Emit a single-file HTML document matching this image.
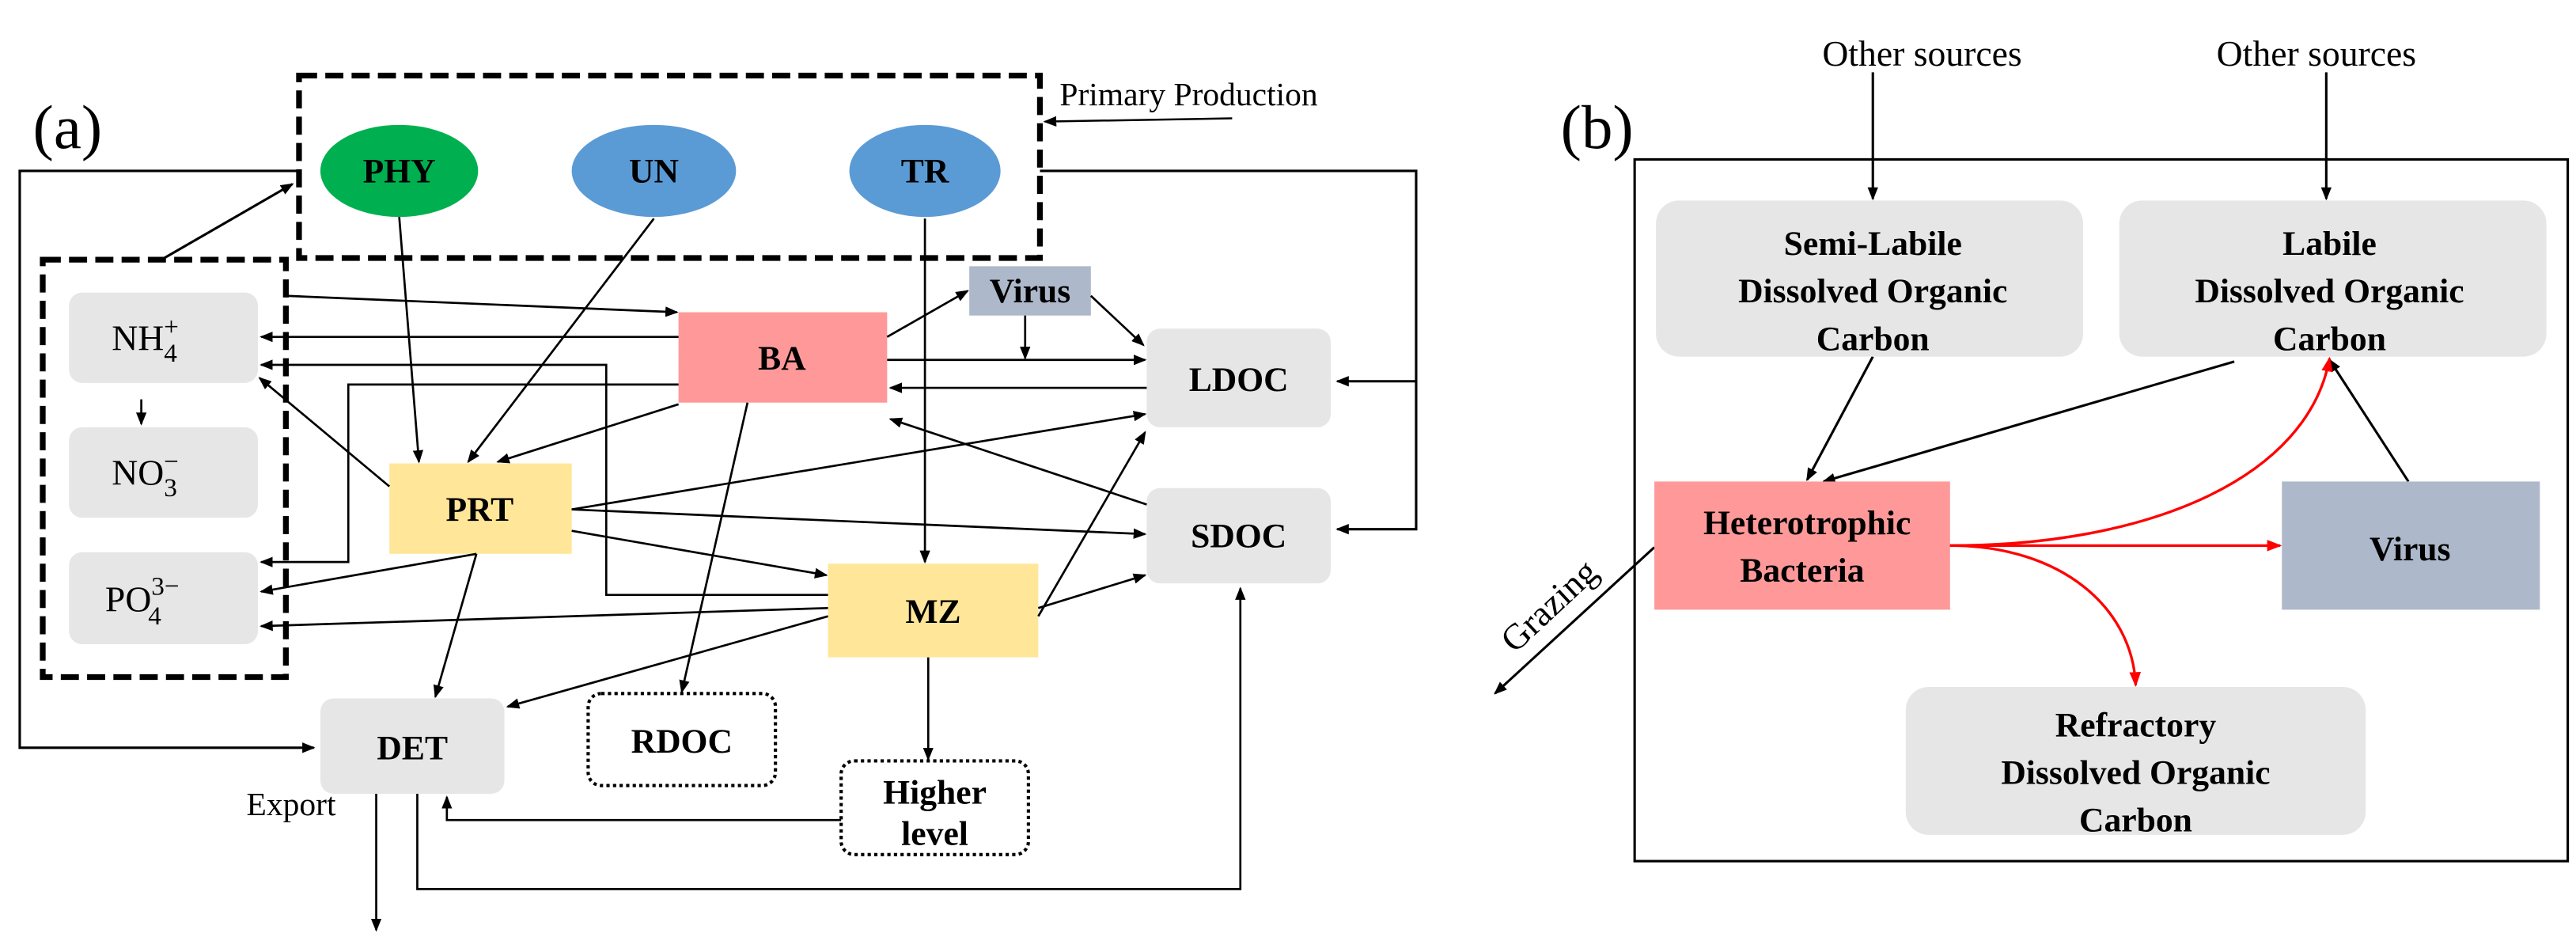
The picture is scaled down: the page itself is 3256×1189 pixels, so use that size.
<!DOCTYPE html>
<html><head><meta charset="utf-8"><style>
html,body{margin:0;padding:0;background:#fff;}
svg{display:block;font-family:"Liberation Serif","DejaVu Serif",serif;}
svg text{font-family:"Liberation Serif","DejaVu Serif",serif;}
.b{font-weight:bold;font-size:21px;}
.n{font-size:22px;}
</style></head><body>
<svg width="3256" height="1189" viewBox="0 0 1568 572.6" xmlns="http://www.w3.org/2000/svg" font-family="Liberation Serif, DejaVu Serif, serif">
<defs>
<marker id="a" markerWidth="8" markerHeight="8" refX="7" refY="4" orient="auto" markerUnits="userSpaceOnUse"><path d="M0,0.8 L8,4 L0,7.2 Z" fill="#000"/></marker>
<marker id="r" markerWidth="9" markerHeight="9" refX="8" refY="4.5" orient="auto" markerUnits="userSpaceOnUse"><path d="M0,1 L9,4.5 L0,8 Z" fill="#f00"/></marker>
</defs>
<!-- (a) -->
<text x="20" y="90" font-size="38">(a)</text>
<rect x="182" y="46" width="451" height="111" fill="none" stroke="#000" stroke-width="3.5" stroke-dasharray="11,5"/>
<text x="645" y="64" font-size="20">Primary Production</text>
<line x1="750" y1="72" x2="636" y2="74" stroke="#000" stroke-width="1.2" marker-end="url(#a)"/>
<ellipse cx="243" cy="104" rx="48" ry="28" fill="#00b050"/>
<text x="243" y="111" text-anchor="middle" class="b">PHY</text>
<ellipse cx="398" cy="104" rx="50" ry="28" fill="#5b9bd5"/>
<text x="398" y="111" text-anchor="middle" class="b">UN</text>
<ellipse cx="563" cy="104" rx="46" ry="28" fill="#5b9bd5"/>
<text x="563" y="111" text-anchor="middle" class="b">TR</text>
<polyline points="182,104 12,104 12,455 191,455" fill="none" stroke="#000" stroke-width="1.5" marker-end="url(#a)"/>
<polyline points="633,104 862,104 862,322 814,322" fill="none" stroke="#000" stroke-width="1.5" marker-end="url(#a)"/>
<line x1="862" y1="232" x2="814" y2="232" stroke="#000" stroke-width="1.5" marker-end="url(#a)"/>
<rect x="26" y="158" width="148" height="254" fill="none" stroke="#000" stroke-width="3.5" stroke-dasharray="11,5"/>
<line x1="100" y1="157" x2="178" y2="112" stroke="#000" stroke-width="1.5" marker-end="url(#a)"/>
<rect x="42" y="178" width="115" height="55" rx="8" fill="#e6e6e6"/>
<text x="68" y="213" class="n">NH<tspan font-size="16" dy="-9">+</tspan><tspan font-size="16" dx="-9" dy="16">4</tspan></text>
<rect x="42" y="260" width="115" height="55" rx="8" fill="#e6e6e6"/>
<text x="68" y="295" class="n">NO<tspan font-size="16" dy="-9">−</tspan><tspan font-size="16" dx="-9" dy="16">3</tspan></text>
<rect x="42" y="336" width="115" height="56" rx="8" fill="#e6e6e6"/>
<text x="64" y="372" class="n">PO<tspan font-size="16" dy="-10">3−</tspan><tspan font-size="16" dx="-19" dy="18">4</tspan></text>
<rect x="413" y="190" width="127" height="55" fill="#ff9999"/>
<text x="476" y="225" text-anchor="middle" class="b">BA</text>
<rect x="590" y="162" width="74" height="30" fill="#adb9ca"/>
<text x="627" y="184" text-anchor="middle" class="b" font-size="19">Virus</text>
<rect x="698" y="200" width="112" height="60" rx="8" fill="#e6e6e6"/>
<text x="754" y="238" text-anchor="middle" class="b">LDOC</text>
<rect x="698" y="297" width="112" height="58" rx="8" fill="#e6e6e6"/>
<text x="754" y="333" text-anchor="middle" class="b">SDOC</text>
<rect x="237" y="282" width="111" height="55" fill="#ffe699"/>
<text x="292" y="317" text-anchor="middle" class="b">PRT</text>
<rect x="504" y="343" width="128" height="57" fill="#ffe699"/>
<text x="568" y="379" text-anchor="middle" class="b">MZ</text>
<rect x="195" y="425" width="112" height="58" rx="8" fill="#e6e6e6"/>
<text x="251" y="462" text-anchor="middle" class="b">DET</text>
<rect x="358" y="422" width="114" height="56" rx="8" fill="none" stroke="#000" stroke-width="2" stroke-dasharray="2,2"/>
<text x="415" y="458" text-anchor="middle" class="b">RDOC</text>
<rect x="512" y="463" width="114" height="57" rx="8" fill="none" stroke="#000" stroke-width="2" stroke-dasharray="2,2"/>
<text x="569" y="489" text-anchor="middle" class="b">Higher</text>
<text x="569" y="514" text-anchor="middle" class="b">level</text>
<text x="150" y="496" font-size="20">Export</text>
<g stroke="#000" stroke-width="1.3" fill="none" marker-end="url(#a)">
<line x1="174" y1="180" x2="412" y2="190"/>
<line x1="413" y1="205" x2="159" y2="205"/>
<polyline points="504,362 369,362 369,222 159,222"/>
<polyline points="413,234 212,234 212,342 159,342"/>
<line x1="237" y1="296" x2="158" y2="230"/>
<line x1="86" y1="243" x2="86" y2="258"/>
<line x1="243" y1="132" x2="255" y2="281"/>
<line x1="398" y1="133" x2="285" y2="281"/>
<line x1="413" y1="246" x2="303" y2="281"/>
<line x1="563" y1="133" x2="563" y2="342"/>
<line x1="540" y1="205" x2="589" y2="177"/>
<line x1="664" y1="180" x2="696" y2="210"/>
<line x1="624" y1="192" x2="624" y2="218"/>
<line x1="540" y1="219" x2="697" y2="219"/>
<line x1="698" y1="236" x2="542" y2="236"/>
<line x1="698" y1="307" x2="542" y2="255"/>
<line x1="348" y1="310" x2="697" y2="252"/>
<line x1="348" y1="310" x2="697" y2="325"/>
<line x1="348" y1="323" x2="503" y2="350"/>
<line x1="290" y1="337" x2="159" y2="360"/>
<line x1="290" y1="337" x2="265" y2="424"/>
<line x1="504" y1="370" x2="159" y2="381"/>
<line x1="504" y1="375" x2="309" y2="430"/>
<line x1="455" y1="245" x2="415" y2="421"/>
<line x1="632" y1="375" x2="697" y2="263"/>
<line x1="632" y1="370" x2="697" y2="350"/>
<line x1="565" y1="400" x2="565" y2="462"/>
<line x1="229" y1="483" x2="229" y2="566"/>
<polyline points="254,483 254,541 755,541 755,358"/>
<polyline points="512,499 272,499 272,485"/>
</g>
<!-- (b) -->
<text x="950" y="90" font-size="38">(b)</text>
<rect x="995" y="97" width="568" height="427" fill="none" stroke="#000" stroke-width="1.5"/>
<text x="1170" y="40" text-anchor="middle" font-size="22">Other sources</text>
<text x="1410" y="40" text-anchor="middle" font-size="22">Other sources</text>
<g stroke="#000" stroke-width="1.5" fill="none" marker-end="url(#a)">
<line x1="1140" y1="44" x2="1140" y2="121"/>
<line x1="1416" y1="44" x2="1416" y2="121"/>
<line x1="1140" y1="217" x2="1100" y2="292"/>
<line x1="1360" y1="220" x2="1110" y2="293"/>
<line x1="1466" y1="293" x2="1418" y2="219"/>
<line x1="1007" y1="333" x2="910" y2="422"/>
</g>
<rect x="1008" y="122" width="260" height="95" rx="14" fill="#e6e6e6"/>
<text x="1140" y="155" text-anchor="middle" class="b" font-size="23">Semi-Labile</text>
<text x="1140" y="184" text-anchor="middle" class="b" font-size="23">Dissolved Organic</text>
<text x="1140" y="213" text-anchor="middle" class="b" font-size="23">Carbon</text>
<rect x="1290" y="122" width="260" height="95" rx="14" fill="#e6e6e6"/>
<text x="1418" y="155" text-anchor="middle" class="b" font-size="23">Labile</text>
<text x="1418" y="184" text-anchor="middle" class="b" font-size="23">Dissolved Organic</text>
<text x="1418" y="213" text-anchor="middle" class="b" font-size="23">Carbon</text>
<rect x="1007" y="293" width="180" height="78" fill="#ff9999"/>
<text x="1100" y="325" text-anchor="middle" class="b" font-size="23">Heterotrophic</text>
<text x="1097" y="354" text-anchor="middle" class="b" font-size="23">Bacteria</text>
<rect x="1389" y="293" width="157" height="78" fill="#adb9ca"/>
<text x="1467" y="341" text-anchor="middle" class="b" font-size="23">Virus</text>
<rect x="1160" y="418" width="280" height="90" rx="14" fill="#e6e6e6"/>
<text x="1300" y="448" text-anchor="middle" class="b" font-size="23">Refractory</text>
<text x="1300" y="477" text-anchor="middle" class="b" font-size="23">Dissolved Organic</text>
<text x="1300" y="506" text-anchor="middle" class="b" font-size="23">Carbon</text>
<g stroke="#f00" stroke-width="1.6" fill="none" marker-end="url(#r)">
<line x1="1187" y1="332" x2="1388" y2="332"/>
<path d="M1187,332 C1310,332 1405,290 1418,218"/>
<path d="M1187,332 C1255,332 1298,370 1300,417"/>
</g>
<text x="0" y="0" font-size="22" transform="translate(922,398) rotate(-43)">Grazing</text>
</svg>
</body></html>
